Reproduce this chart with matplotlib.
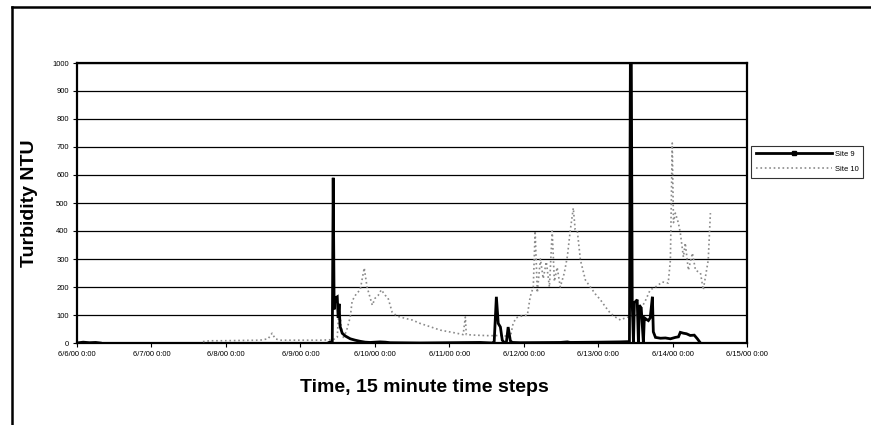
import matplotlib
matplotlib.use("Agg")
import matplotlib.pyplot as plt
from matplotlib.lines import Line2D
import numpy as np

plt.rcParams["font.family"] = ["Liberation Sans", "DejaVu Sans"]

# ── Data (hours since 6/6/00 0:00, turbidity NTU) ─────────────────
SITE9_HOURS = [0, 2, 4, 6, 7.5, np.nan,
               81.3, 82.3, 82.6, 82.9, 83.2, 83.9, 84.2, 84.5, 84.8, 85.5,
               86.5, 88.1, 89.7, 91.3, 92.9, 94.5, 97.7, 99.4, 101.0, 110.6,
               120.3, 130.0, 133.9, 134.5, 135.2, 135.8, 136.5, 137.1, 137.7,
               138.4, 139.0, 139.7, 140.3, 142.9, 155.8, 158.1, 159.0, 168.7,
               175.2, 178.1, 178.4, 178.7, 179.0, 179.4, 179.7, 180.3, 180.6,
               181.0, 181.3, 181.9, 182.6, 182.9, 183.5, 184.2, 184.8, 185.5,
               185.8, 186.5, 188.1, 189.7, 191.3, 192.9, 193.9, 194.5, 195.5,
               196.5, 197.7, 199.0, 200.0, 201.0]
SITE9_NTU = [0, 3, 1, 2, 0, np.nan,
             2, 5, 590, 120, 160, 165, 90, 140, 60, 35,
             25, 15, 10, 6, 3, 2, 4, 3, 1, 0,
             1, 2, 0, 5, 165, 70, 57, 10, 2,
             0, 57, 8, 2, 1, 2, 4, 2, 3,
             4, 5, 1010, 1010, 140, 0, 145, 150, 155,
             0, 135, 125, 0, 90, 85, 80, 90, 165,
             40, 20, 17, 18, 15, 20, 22, 38, 35,
             33, 27, 28, 15, 0]

SITE10_HOURS = [40.6, 42.9, 46.1, 52.6, 59.0, 61.6, 62.9, 63.9, 65.5, 71.9,
                78.4, 82.6, 83.9, 84.5, 85.2, 85.8, 86.8, 88.1, 88.7, 90.0,
                91.3, 92.6, 93.5, 95.2, 96.1, 97.1, 98.1, 99.4, 100.3, 101.6,
                103.2, 105.8, 108.1, 110.6, 113.9, 117.1, 121.9, 124.5, 125.2,
                125.5, 128.4, 133.2, 136.5, 138.1, 139.7, 140.6, 141.6, 142.9,
                145.2, 146.1, 147.1, 147.7, 148.4, 149.4, 150.3, 151.3, 152.3,
                153.2, 153.9, 154.8, 155.8, 157.1, 158.1, 159.0, 160.0, 160.6,
                161.3, 162.3, 163.9, 165.5, 167.1, 168.7, 170.3, 171.9, 173.5,
                175.2, 176.8, 178.4, 180.3, 181.6, 183.2, 184.8, 186.5, 188.7,
                190.6, 191.3, 191.9, 192.3, 192.9, 193.9, 194.5, 195.5, 196.1,
                197.1, 198.4, 199.4, 201.0, 201.9, 202.6, 203.5, 204.2]
SITE10_NTU = [5, 8, 8, 9, 10, 15, 35, 15, 10, 10,
              10, 12, 20, 130, 60, 20, 40, 93, 150, 175,
              190, 268, 200, 135, 160, 170, 190, 170, 160, 110,
              96, 88, 82, 70, 58, 46, 36, 30, 93,
              30, 28, 26, 27, 25, 21, 70, 90, 95,
              100, 165, 200, 400, 180, 300, 230, 290, 200,
              400, 220, 270, 200, 250, 310, 400, 482, 405,
              400, 296, 225, 200, 175, 155, 130, 107, 93,
              82, 90, 95, 100, 118, 150, 190, 200, 218,
              214, 296, 714, 430, 464, 428, 393, 307, 357,
              260, 321, 260, 250, 190, 236, 296, 464]

TICK_HOURS = [0, 24, 48, 72, 96, 120, 144, 168, 192, 216]
TICK_LABELS = ["6/6/00 0:00", "6/7/00 0:00", "6/8/00 0:00", "6/9/00 0:00",
               "6/10/00 0:00", "6/11/00 0:00", "6/12/00 0:00", "6/13/00 0:00",
               "6/14/00 0:00", "6/15/00 0:00"]
Y_TICKS = list(range(0, 1001, 100))

# ── Figure ────────────────────────────────────────────────────────
fig = plt.figure(figsize=(8.71, 4.25), dpi=100)
ax = fig.add_axes([77 / 871, 1 - 343 / 425, 670 / 871, 280 / 425])

ax.plot(SITE10_HOURS, SITE10_NTU, color="#8a8a8a", lw=1.2, ls=":", zorder=3)
ax.plot(SITE9_HOURS, SITE9_NTU, color="black", lw=2.0, zorder=4,
        solid_joinstyle="miter")

ax.set_xlim(0, 216)
ax.set_ylim(0, 1000)
ax.set_xticks(TICK_HOURS)
ax.set_xticklabels(TICK_LABELS)
ax.set_yticks(Y_TICKS)
ax.tick_params(axis="both", labelsize=5.5, length=3, width=0.8,
               direction="out", pad=3)
ax.yaxis.grid(True, color="black", lw=0.9)
ax.set_axisbelow(True)
for sp in ax.spines.values():
    sp.set_linewidth(1.6)

fig.text(424 / 871, 1 - 388 / 425, "Time, 15 minute time steps",
         ha="center", va="center", fontsize=14, fontweight="bold")
fig.text(30 / 871, 1 - 203 / 425, "Turbidity NTU", rotation=90,
         ha="center", va="center", fontsize=14, fontweight="bold")

# legend
handles = [Line2D([], [], color="black", lw=2.0, marker="s", ms=3),
           Line2D([], [], color="#8a8a8a", lw=1.2, ls=":")]
leg = fig.legend(handles, ["Site 9", "Site 10"],
                 loc="upper left", bbox_to_anchor=(751 / 871, 1 - 146 / 425),
                 fontsize=5.5, handlelength=10, handletextpad=0.4,
                 frameon=True, fancybox=False, borderpad=0.6,
                 labelspacing=1.0, borderaxespad=0)
leg.get_frame().set_edgecolor("black")
leg.get_frame().set_linewidth(0.8)

# outer chart frame (cropped)
fig.add_artist(Line2D([12 / 871, 1], [1 - 7 / 425, 1 - 7 / 425],
                      color="black", lw=1.8, transform=fig.transFigure))
fig.add_artist(Line2D([12 / 871, 12 / 871], [0, 1 - 7 / 425],
                      color="black", lw=1.8, transform=fig.transFigure))

fig.savefig("out.png", dpi=100)
